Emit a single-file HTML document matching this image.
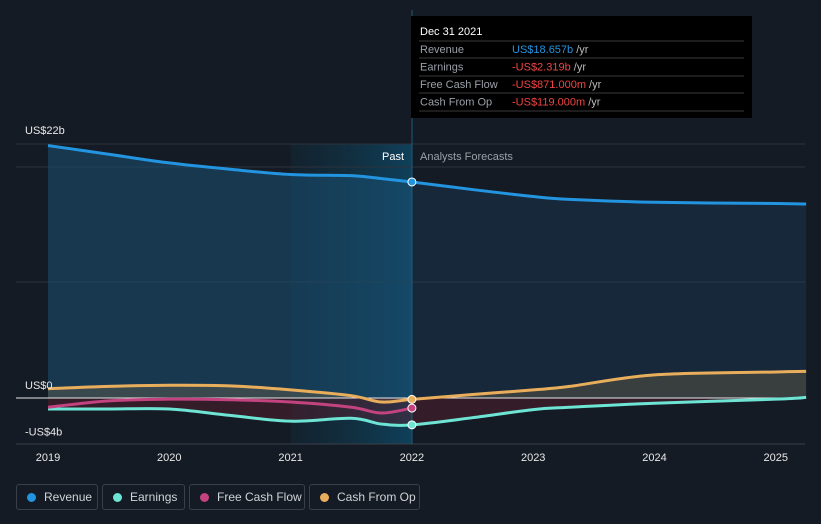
<!DOCTYPE html>
<html><head><meta charset="utf-8"><style>
body{margin:0;background:#151b24;width:821px;height:524px;overflow:hidden;font-family:"Liberation Sans",sans-serif}
svg{position:absolute;left:0;top:0}
.leg{position:absolute;top:484px;height:26px;border:1px solid #3a404a;border-radius:3px;box-sizing:border-box;color:#d0d3d8;font-size:12px;line-height:24px;padding-left:27px}
.leg i{position:absolute;left:10px;top:8px;width:9px;height:9px;border-radius:50%}
</style></head><body>
<svg id="c" width="821" height="524"></svg>
<div class="leg" style="left:16px;width:82px"><i style="background:#2394df"></i>Revenue</div>
<div class="leg" style="left:102px;width:83px"><i style="background:#6ee4d4"></i>Earnings</div>
<div class="leg" style="left:189px;width:116px"><i style="background:#c2437f"></i>Free Cash Flow</div>
<div class="leg" style="left:309px;width:111px"><i style="background:#e9ae5c"></i>Cash From Op</div>
<script>
const years=[2019,2019.5,2020,2020.5,2021,2021.5,2021.75,2022,2022.5,2023,2023.3,2024,2025,2025.25];
const revenue=[21.8,21.05,20.3,19.75,19.3,19.2,18.95,18.657,18.0,17.4,17.15,16.9,16.8,16.75];
const earnings=[-0.95,-0.95,-0.95,-1.5,-2.0,-1.75,-2.25,-2.319,-1.7,-1.0,-0.8,-0.45,-0.1,0.05];
const fcfYears=[2019,2019.5,2020,2020.5,2021,2021.5,2021.75,2022];
const fcf=[-0.8,-0.25,-0.1,-0.15,-0.35,-0.8,-1.3,-0.871];
const cfo=[0.8,1.0,1.1,1.05,0.7,0.2,-0.35,-0.119,0.3,0.7,1.0,2.0,2.25,2.3];
const yTicks=[22,0,-4];const yLabels=["US$22b","US$0","-US$4b"];
const xTicks=[2019,2020,2021,2022,2023,2024,2025];
const X=t=>48+(t-2019)*121.3, Y=v=>398-v*11.58;
const s=document.getElementById('c');const NS='http://www.w3.org/2000/svg';
function el(tag,a,name,txt){const e=document.createElementNS(NS,tag);for(const k in a)e.setAttribute(k,a[k]);


if(txt!=null)e.textContent=txt;s.appendChild(e);return e;}
function path(xs,vs){const p=xs.map((t,i)=>[X(t),Y(vs[i])]);let d='M'+p[0];
for(let i=0;i<p.length-1;i++){const a=p[i-1]||p[i],b=p[i],c=p[i+1],e=p[i+2]||c;
d+=' C'+(b[0]+(c[0]-a[0])/6)+','+(b[1]+(c[1]-a[1])/6)+' '+(c[0]-(e[0]-b[0])/6)+','+(c[1]-(e[1]-b[1])/6)+' '+c;}return d;}
const defs=el('defs',{},'defs');
defs.innerHTML='<linearGradient id="hl" x1="0" x2="1"><stop offset="0" stop-color="#0f3347" stop-opacity=".3"/><stop offset="1" stop-color="#0e4560" stop-opacity=".9"/></linearGradient><clipPath id="cp"><rect x="0" y="0" width="412" height="524"/></clipPath><clipPath id="cf"><rect x="412" y="0" width="409" height="524"/></clipPath>';
el('rect',{x:X(2021),y:144,width:X(2022)-X(2021),height:300,fill:'url(#hl)'},'past-highlight');
[144,167,282].forEach(y=>el('line',{x1:16,x2:805,y1:y,y2:y,stroke:'#2c333d'},'gridline'));
el('line',{x1:16,x2:805,y1:444,y2:444,stroke:'#3a414b'},'x-axis-line');
const last=years[years.length-1];
const revArea=path(years,revenue)+` L${X(last)},${Y(0)} L${X(2019)},${Y(0)} Z`;
el('path',{d:revArea,fill:'#1a5073',opacity:.55,'clip-path':'url(#cp)'},'revenue-area-past');
el('path',{d:revArea,fill:'#1a4d70',opacity:.28,'clip-path':'url(#cf)'},'revenue-area-forecast');
el('path',{d:path(years,cfo)+` L${X(last)},${Y(0)} L${X(2019)},${Y(0)} Z`,fill:'#7a6a4a',opacity:.35},'cfo-area');
el('path',{d:path(years,earnings)+` L${X(last)},${Y(0)} L${X(2019)},${Y(0)} Z`,fill:'#5a1f2e',opacity:.45},'earnings-area');
el('line',{x1:16,x2:805,y1:Y(0),y2:Y(0),stroke:'#e8e8e8','stroke-width':1},'zero-line');
el('line',{x1:412,x2:412,y1:10,y2:444,stroke:'#1f5a78'},'divider');
el('path',{d:path(years,revenue),fill:'none',stroke:'#2394df','stroke-width':3},'revenue-line');
el('path',{d:path(years,cfo),fill:'none',stroke:'#e9ae5c','stroke-width':3},'cfo-line');
el('path',{d:path(years,earnings),fill:'none',stroke:'#6ee4d4','stroke-width':3},'earnings-line');
el('path',{d:path(fcfYears,fcf),fill:'none',stroke:'#c2437f','stroke-width':3},'fcf-line');
const i22=years.indexOf(2022);
[[revenue[i22],'#2394df'],[cfo[i22],'#e9ae5c'],[fcf[fcf.length-1],'#c2437f'],[earnings[i22],'#6ee4d4']].forEach(([v,c])=>
el('circle',{cx:X(2022),cy:Y(v),r:4,fill:c,stroke:'#fff','stroke-width':1},'marker-2022'));
yTicks.forEach((v,i)=>el('text',{x:25,y:Y(v)-9,fill:'#e8e8e8','font-size':11},'y-label',yLabels[i]));
xTicks.forEach(t=>el('text',{x:X(t),y:461,fill:'#e8e8e8','font-size':11,'text-anchor':'middle'},'x-label',t));
el('text',{x:404,y:160,fill:'#fff','font-size':11,'text-anchor':'end'},'past-label','Past');
el('text',{x:420,y:160,fill:'#9aa0a8','font-size':11},'forecast-label','Analysts Forecasts');
el('rect',{x:411,y:16,width:341,height:102,fill:'#000'},'tooltip');
el('text',{x:420,y:35,fill:'#fff','font-size':11},'tooltip-date','Dec 31 2021');
const rows=[['Revenue','US$18.657b','#2394df'],['Earnings','-US$2.319b','#f04444'],['Free Cash Flow','-US$871.000m','#f04444'],['Cash From Op','-US$119.000m','#f04444']];
[41,58,76,93,111].forEach(y=>el('line',{x1:419,x2:744,y1:y,y2:y,stroke:'#3a3a3a'},'tooltip-divider'));
rows.forEach((r,i)=>{const y=53+i*17.5;
el('text',{x:420,y,fill:'#9aa0a8','font-size':11},'tooltip-label',r[0]);
const t=el('text',{x:512,y,fill:r[2],'font-size':11},'tooltip-value',r[1]);
const sp=document.createElementNS(NS,'tspan');sp.setAttribute('fill','#bbb');sp.textContent=' /yr';t.appendChild(sp);});
</script></body></html>
